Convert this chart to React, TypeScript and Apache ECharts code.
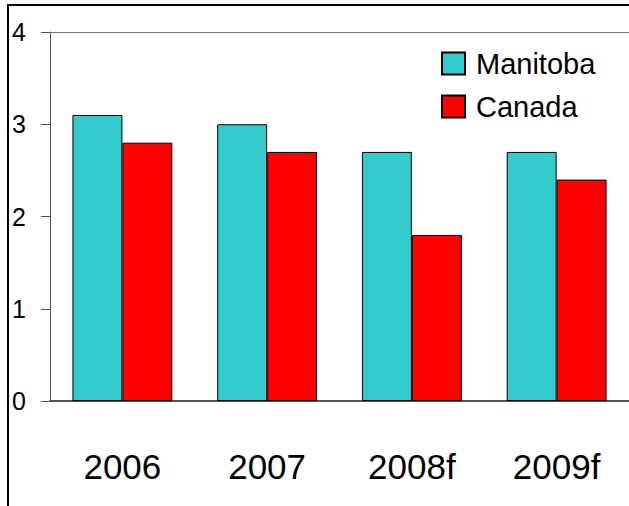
import React, { useEffect, useRef } from "react";
import * as echarts from "echarts";

const categories = ["2006", "2007", "2008f", "2009f"];
const manitoba = [3.1, 3.0, 2.7, 2.7];
const canada = [2.8, 2.7, 1.8, 2.4];
const yTicks = [0, 1, 2, 3, 4];

const FONT = "'Liberation Sans Narrow', 'Arial Narrow', 'Liberation Sans', Arial, sans-serif";

export default function App() {
  const ref = useRef<HTMLDivElement>(null);
  useEffect(() => {
    if (!ref.current) return;
    const chart = echarts.init(ref.current, undefined, { renderer: "svg" });
    chart.setOption({
      animation: false,
      backgroundColor: "#ffffff",
      textStyle: { fontFamily: FONT },
      graphic: [
        {
          type: "rect",
          shape: { x: 8, y: 5, width: 640, height: 520 },
          style: { fill: "none", stroke: "#000", lineWidth: 2 },
          silent: true,
        },
      ],
      legend: {
        orient: "vertical",
        left: 436,
        top: 44,
        itemWidth: 23,
        itemHeight: 22,
        itemGap: 14,
        icon: "rect",
        textStyle: { fontFamily: FONT, fontSize: 29, lineHeight: 29, color: "#000", padding: [0, 0, 0, 6] },
        data: ["Manitoba", "Canada"],
      },
      grid: { left: 50, top: 32, width: 581, height: 369, containLabel: false },
      xAxis: [
        {
          type: "category",
          data: categories,
          axisLine: { show: true, lineStyle: { color: "#555", width: 2 } },
          axisTick: { show: false },
          axisLabel: { fontFamily: FONT, fontSize: 35, color: "#000", margin: 48 },
        },
        {
          type: "category",
          data: categories,
          position: "top",
          axisLine: { show: true, lineStyle: { color: "#777", width: 1 } },
          axisTick: { show: false },
          axisLabel: { show: false },
        },
      ],
      yAxis: {
        type: "value",
        min: yTicks[0],
        max: yTicks[yTicks.length - 1],
        interval: 1,
        splitLine: { show: false },
        axisLine: { show: true, lineStyle: { color: "#555", width: 1 } },
        axisTick: { show: true, length: 9, lineStyle: { color: "#555" } },
        axisLabel: { fontFamily: FONT, fontSize: 25, color: "#000", margin: 24, align: "right" },
      },
      series: [
        {
          name: "Manitoba",
          type: "bar",
          data: manitoba,
          barCategoryGap: "31%",
          barGap: "0%",
          itemStyle: { color: "#33CCCC", borderColor: "#000", borderWidth: 1 },
        },
        {
          name: "Canada",
          type: "bar",
          data: canada,
          barCategoryGap: "31%",
          barGap: "0%",
          itemStyle: { color: "#FF0000", borderColor: "#000", borderWidth: 1 },
        },
      ],
    });
    return () => chart.dispose();
  }, []);
  return (
    <div
      ref={ref}
      style={{ position: "fixed", left: 0, top: 0, width: 629, height: 506 }}
    />
  );
}
